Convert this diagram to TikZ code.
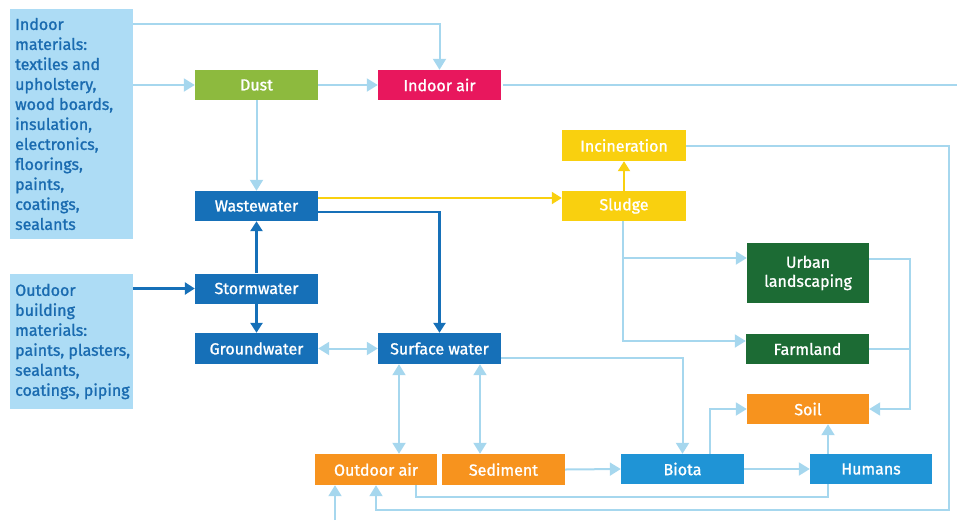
\documentclass[tikz,border=0pt]{standalone}
\usepackage{fontspec}
\setmainfont{Fira Sans}[FakeBold=1.2]
\usetikzlibrary{arrows.meta,calc}

\definecolor{linelb}{HTML}{A6D7EE}
\definecolor{sidefill}{HTML}{ADDCF5}
\definecolor{sidetext}{HTML}{1A6BB0}
\definecolor{darkblue}{HTML}{1670B8}
\definecolor{midblue}{HTML}{1F94D6}
\definecolor{orangebx}{HTML}{F7931E}
\definecolor{yellowbx}{HTML}{F9D00F}
\definecolor{darkgreen}{HTML}{1C6B34}
\definecolor{limegreen}{HTML}{8DBA3E}
\definecolor{pinkbx}{HTML}{E8175D}

\newcommand{\boxfont}{\fontsize{16}{19}\selectfont}
\newcommand{\sidefont}{\fontsize{16}{20}\selectfont}

\tikzset{
  box/.style={rectangle, minimum width=123pt, minimum height=30pt, inner sep=0pt,
    text=white, font=\boxfont, align=center},
  sidebox/.style={rectangle, fill=sidefill, minimum width=123pt, inner sep=0pt},
  sidelabel/.style={anchor=west, inner sep=0pt, text=sidetext, font=\sidefont, align=left},
  flow/.style={draw=linelb, line width=2pt},
  flowto/.style={flow, -{Triangle[length=11pt,width=13pt]}},
  flowboth/.style={flow, {Triangle[length=11pt,width=13pt]}-{Triangle[length=11pt,width=13pt]}},
  waterto/.style={draw=darkblue, line width=2.5pt, -{Triangle[length=10pt,width=12pt]}},
  sludgeto/.style={draw=yellowbx, line width=2pt, -{Triangle[length=10pt,width=12pt]}}
}

\begin{document}
\begin{tikzpicture}[x=1pt,y=-1pt]
\useasboundingbox (0,0) rectangle (957,520);

% source boxes
\node[sidebox, minimum height=230pt] (indoormat) at (71.5,124) {};
\node[sidelabel] (indoortxt) at (15,124) {Indoor\\materials:\\textiles and\\upholstery,\\wood boards,\\insulation,\\electronics,\\floorings,\\paints,\\coatings,\\sealants};
\node[sidebox, minimum height=135pt] (outmat) at (71.5,341.5) {};
\node[sidelabel] (outtxt) at (15,341.5) {Outdoor\\building\\materials:\\paints, plasters,\\sealants,\\coatings, piping};

% compartments
\node[box, fill=limegreen] (dust) at (256.5,85) {Dust};
\node[box, fill=pinkbx] (indoorair) at (439.5,85) {Indoor air};
\node[box, fill=yellowbx, minimum width=124pt, minimum height=31pt] (incin) at (624,145.5) {Incineration};
\node[box, fill=yellowbx, minimum width=124pt] (sludge) at (624,206) {Sludge};
\node[box, fill=darkblue] (waste) at (256.5,206) {Wastewater};
\node[box, fill=darkblue] (storm) at (256.5,288.5) {Stormwater};
\node[box, fill=darkblue, minimum height=31pt] (ground) at (256.5,348.5) {Groundwater};
\node[box, fill=darkblue, minimum height=31pt] (surface) at (439.5,348.5) {Surface water};
\node[box, fill=darkgreen, minimum width=122pt, minimum height=60pt] (urban) at (808,273) {Urban\\landscaping};
\node[box, fill=darkgreen] (farm) at (807.5,349) {Farmland};
\node[box, fill=orangebx, minimum width=122pt] (soil) at (808,409) {Soil};
\node[box, fill=orangebx, minimum width=122pt, minimum height=31pt] (outair) at (376,469.5) {Outdoor air};
\node[box, fill=orangebx, minimum height=31pt] (sediment) at (503.5,469.5) {Sediment};
\node[box, fill=midblue] (biota) at (682.5,469) {Biota};
\node[box, fill=midblue, minimum width=122pt] (humans) at (871,469) {Humans};

% routing points
\coordinate (toprow) at (0,24);
\coordinate (airout) at (957,85);
\coordinate (wy) at ($(waste.east)+(0,-8)$);
\coordinate (wb) at ($(waste.east)+(0,6)$);
\coordinate (loopcorner) at (949,510);
\coordinate (s1) at (623,258);
\coordinate (s2) at (623,341);
\coordinate (u1) at (910,259);
\coordinate (v1) at (399,0);
\coordinate (v2) at (480,0);
\coordinate (sw) at ($(surface.east)+(0,9.5)$);
\coordinate (b1) at (710,0);
\coordinate (h1) at (828,497);
\coordinate (o1) at (416,0);
\coordinate (ambient) at (335,520);

% indoor pathways
\draw[flowto] (indoormat.east |- toprow) -| (indoorair.north);
\draw[flowto] (indoormat.east |- dust.west) -- (dust.west);
\draw[flowto] (dust.east) -- (indoorair.west);
\draw[flow] ($(indoorair.east)+(2,0)$) -- (airout);
\draw[flowto] (dust.south) -- (waste.north);

% water pathways
\draw[sludgeto] (wy) -- (wy -| sludge.west);
\draw[waterto] (wb) -| (surface.north);
\draw[sludgeto] (sludge.north) -- (incin.south);
\draw[waterto] (storm.north) -- (waste.south);
\draw[waterto] (storm.south) -- (ground.north);
\draw[waterto] (outmat.east |- storm.west) -- (storm.west);

% sludge to land
\draw[flowto] (sludge.south -| s2) -- (s2) -- (s2 -| farm.west);
\draw[flowto] (s1) -- (s1 -| urban.west);
\draw[flowto] (u1 -| urban.east) -- (u1) |- (soil.east);
\draw[flow] (farm.east) -- (farm.east -| u1);

% incineration back to outdoor air
\draw[flowto] (incin.east) -| (loopcorner) -| (outair.south);

% surface water exchanges
\draw[flowboth] (ground.east) -- (surface.west);
\draw[flowboth] (surface.south -| v1) -- (outair.north -| v1);
\draw[flowboth] (surface.south -| v2) -- (sediment.north -| v2);
\draw[flowto] (sw) -| (biota.north);
\draw[flowto] (sediment.east) -- (biota.west);
\draw[flowto] (biota.east) -- (humans.west);
\draw[flowto] (biota.north -| b1) |- (soil.west);
\draw[flowto] (humans.north -| h1) -- (soil.south -| h1);
\draw[flow] (humans.south -| h1) -- (h1) -| (outair.south -| o1);
\draw[flowto] (ambient) -- (outair.south -| ambient);
\end{tikzpicture}
\end{document}
